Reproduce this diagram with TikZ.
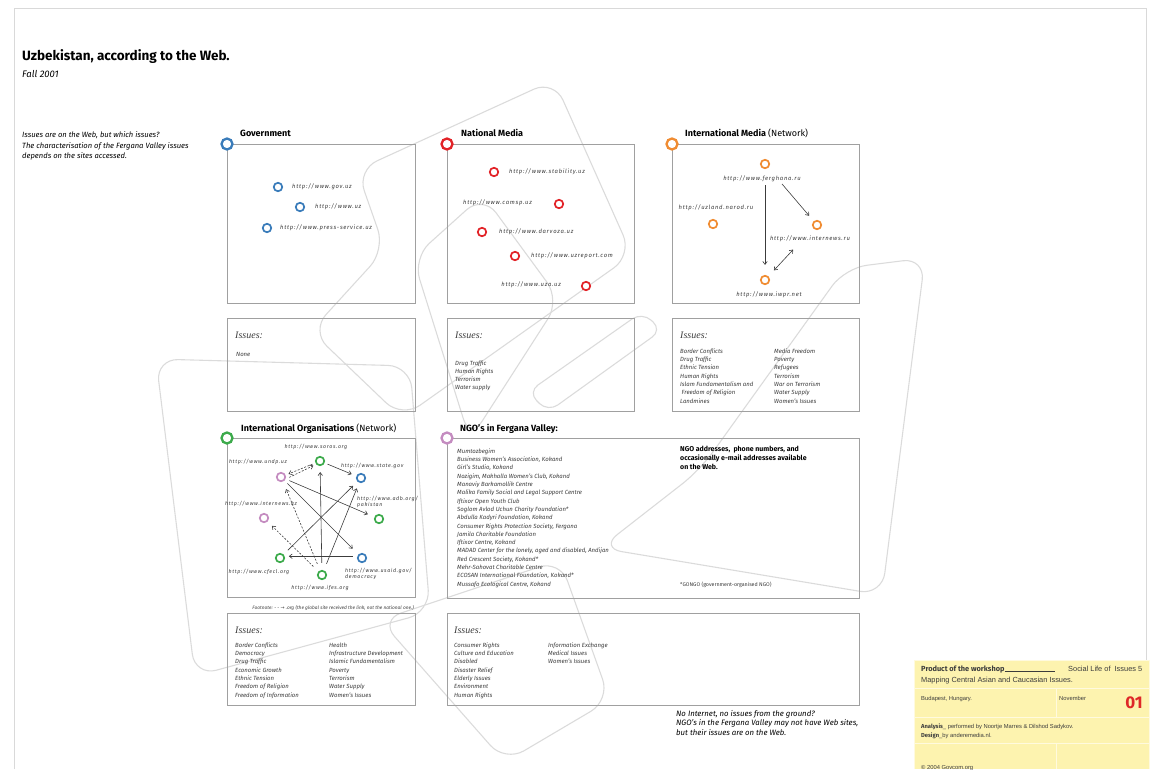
\documentclass[tikz,border=0pt]{standalone}
\usepackage{fontspec}
\setmainfont{Fira Sans}
\newfontfamily\urlfont{Fira Sans}[LetterSpace=12]
\newfontfamily\issfont{Liberation Serif}
\newfontfamily\boxfont{Liberation Sans}
\newfontfamily\symfont{DejaVu Sans}
\usetikzlibrary{arrows.meta}

\definecolor{govblue}{RGB}{58,124,186}
\definecolor{medred}{RGB}{226,35,40}
\definecolor{intorange}{RGB}{240,140,50}
\definecolor{orggreen}{RGB}{60,170,75}
\definecolor{ngopurple}{RGB}{196,140,192}
\definecolor{boxline}{RGB}{160,160,160}
\definecolor{txt}{RGB}{60,60,60}
\definecolor{notefill}{RGB}{253,243,175}
\definecolor{noteline}{RGB}{255,250,222}
\definecolor{numred}{RGB}{222,40,40}

\tikzset{
  panel/.style={draw=boxline, line width=0.9pt, anchor=north west, inner sep=0pt},
  cat/.style={circle, draw=#1, line width=2.3pt, fill=white, minimum size=11pt, inner sep=0pt},
  site/.style={circle, draw=#1, line width=1.7pt, fill=white, minimum size=8.5pt, inner sep=0pt},
  head/.style={anchor=base west, font=\bfseries\fontsize{9}{10}\selectfont, inner sep=0pt},
  url/.style={font=\urlfont\itshape\fontsize{5.9}{7}\selectfont, text=txt, inner sep=0pt},
  item/.style={anchor=west, font=\itshape\fontsize{6}{7}\selectfont, text=txt, inner sep=0pt, text height=1.2ex, text depth=.3ex},
  isshead/.style={anchor=base west, font=\issfont\itshape\fontsize{10}{11}\selectfont, text=txt, inner sep=0pt},
  link/.style={draw=txt, line width=0.6pt, -{Straight Barb[length=3pt,width=4.5pt]}, shorten >=6pt, shorten <=6pt},
  dlink/.style={link, dash pattern=on 2pt off 1.5pt},
  bgline/.style={draw=black!14, line width=1.1pt, rounded corners=22pt},
  notetext/.style={anchor=base west, font=\boxfont\fontsize{5.8}{7}\selectfont, text=txt, inner sep=0pt}
}

\begin{document}
\begin{tikzpicture}[x=1pt,y=-1pt]
\useasboundingbox (0,0) rectangle (1151,769);

% background loops
\draw[bgline] (554,80) -- (632,255) -- (402,418) -- (311,331) -- (385,250) -- (357,170) -- cycle;
\draw[bgline] (156,359) -- (410,366) -- (430,612) -- (195,676) -- cycle;
\draw[bgline] (845,268) -- (925,258) -- (882,595) -- (600,548) -- (700,470) -- cycle;
\draw[bgline] (380,620) -- (560,560) -- (610,700) -- (505,762) -- cycle;
\draw[bgline, rounded corners=12pt] (642,312) -- (528,392) -- (548,412) -- (662,330) -- cycle;
\draw[bgline] (413,258) -- (483,195) -- (560,300) -- (470,440) -- cycle;

% page edge
\draw[black!15, line width=0.8pt] (14,769) -- (14,8) -- (1146,8) -- (1146,769);

% title
\node[anchor=base west, font=\bfseries\fontsize{13.5}{15}\selectfont, inner sep=0pt] (title) at (22,60) {Uzbekistan, according to the Web.};
\node[anchor=base west, font=\itshape\fontsize{9.5}{11}\selectfont, inner sep=0pt] (season) at (22,77) {Fall 2001};
\node[anchor=base west, font=\itshape\fontsize{7.6}{9}\selectfont, inner sep=0pt] (intro1) at (22,137) {Issues are on the Web, but which issues?};
\node[anchor=base west, font=\itshape\fontsize{7.6}{9}\selectfont, inner sep=0pt] (intro2) at (22,148) {The characterisation of the Fergana Valley issues};
\node[anchor=base west, font=\itshape\fontsize{7.6}{9}\selectfont, inner sep=0pt] (intro3) at (22,158) {depends on the sites accessed.};

% panels
\node[panel, minimum width=188pt, minimum height=159pt] (govbox) at (227,144) {};
\node[panel, minimum width=187pt, minimum height=159pt] (medbox) at (447,144) {};
\node[panel, minimum width=187pt, minimum height=159pt] (intbox) at (672,144) {};
\node[panel, minimum width=188pt, minimum height=93pt] (goviss) at (227,318) {};
\node[panel, minimum width=187pt, minimum height=93pt] (mediss) at (447,318) {};
\node[panel, minimum width=187pt, minimum height=93pt] (intiss) at (672,318) {};
\node[panel, minimum width=188pt, minimum height=159pt] (orgbox) at (227,438) {};
\node[panel, minimum width=412pt, minimum height=160pt] (ngobox) at (447,438) {};
\node[panel, minimum width=188pt, minimum height=92pt] (orgiss) at (227,613) {};
\node[panel, minimum width=412pt, minimum height=92pt] (ngoiss) at (447,613) {};

\node[cat=govblue] (gov) at (govbox.north west) {};
\node[cat=medred] (media) at (medbox.north west) {};
\node[cat=intorange] (intmedia) at (intbox.north west) {};
\node[cat=orggreen] (intorg) at (orgbox.north west) {};
\node[cat=ngopurple] (ngo) at (ngobox.north west) {};

\node[head] (govhead) at (240,136) {Government};
\node[head] (medhead) at (461,136) {National Media};
\node[head] (inthead) at (685,136) {International Media {\mdseries (Network)}};
\node[head] (orghead) at (241,431) {International Organisations {\mdseries (Network)}};
\node[head] (ngohead) at (460,431) {NGO's in Fergana Valley:};

% government sites
\node[site=govblue] (govuz) at (278,187) {};
\node[site=govblue] (wwwuz) at (300,207) {};
\node[site=govblue] (press) at (267,228) {};
\node[url, anchor=west] (govuzL) at (292,187) {http://www.gov.uz};
\node[url, anchor=west] (wwwuzL) at (315,207) {http://www.uz};
\node[url, anchor=west] (pressL) at (280,228) {http://www.press-service.uz};

% national media sites
\node[site=medred] (stab) at (494,172) {};
\node[site=medred] (camsp) at (559,204) {};
\node[site=medred] (darv) at (482,232) {};
\node[site=medred] (uzrep) at (515,256) {};
\node[site=medred] (uza) at (586,286) {};
\node[url, anchor=west] (stabL) at (509,172) {http://www.stability.uz};
\node[url, anchor=east] (camspL) at (532,203) {http://www.camsp.uz};
\node[url, anchor=west] (darvL) at (499,232) {http://www.darvoza.uz};
\node[url, anchor=west] (uzrepL) at (531,256) {http://www.uzreport.com};
\node[url, anchor=east] (uzaL) at (561,285) {http://www.uza.uz};

% international media network
\node[site=intorange] (fergh) at (765,164) {};
\node[site=intorange] (uzland) at (713,224) {};
\node[site=intorange] (inews) at (817,225) {};
\node[site=intorange] (iwpr) at (765,280) {};
\node[url] (ferghL) at (762,179) {http://www.ferghana.ru};
\node[url] (uzlandL) at (716,208) {http://uzland.narod.ru};
\node[url] (inewsL) at (810,239) {http://www.internews.ru};
\node[url] (iwprL) at (769,295) {http://www.iwpr.net};
\draw[link, shorten <=16pt, shorten >=10pt] (fergh) -- (iwpr);
\draw[link, shorten <=21pt, shorten >=7pt] (fergh) -- (inews);
\draw[link, {Straight Barb[length=3pt,width=4.5pt]}-{Straight Barb[length=3pt,width=4.5pt]}, shorten <=10pt, shorten >=8pt] ([xshift=-10pt]inewsL.south) -- (iwpr);

% international organisations network
\node[site=orggreen] (soros) at (320,461) {};
\node[site=ngopurple] (undp) at (281,477) {};
\node[site=govblue] (state) at (361,478) {};
\node[site=orggreen] (adb) at (379,519) {};
\node[site=ngopurple] (kz) at (264,518) {};
\node[site=orggreen] (cfecl) at (280,558) {};
\node[site=orggreen] (ifes) at (322,575) {};
\node[site=govblue] (usaid) at (362,558) {};
\node[url, font=\urlfont\itshape\fontsize{5.3}{6.5}\selectfont] (sorosL) at (316,447) {http://www.soros.org};
\node[url, font=\urlfont\itshape\fontsize{5.3}{6.5}\selectfont] (undpL) at (258,462) {http://www.undp.uz};
\node[url, font=\urlfont\itshape\fontsize{5.3}{6.5}\selectfont, anchor=west] (stateL) at (341,466) {http://www.state.gov};
\node[url, font=\urlfont\itshape\fontsize{5.3}{6.5}\selectfont, anchor=west, align=left] (adbL) at (357,502) {http://www.adb.org/\\pakistan};
\node[url, font=\urlfont\itshape\fontsize{5.3}{6.5}\selectfont] (kzL) at (261,504) {http://www.internews.kz};
\node[url, font=\urlfont\itshape\fontsize{5.3}{6.5}\selectfont] (cfeclL) at (259,572) {http://www.cfecl.org};
\node[url, font=\urlfont\itshape\fontsize{5.3}{6.5}\selectfont] (ifesL) at (320,588) {http://www.ifes.org};
\node[url, font=\urlfont\itshape\fontsize{5.3}{6.5}\selectfont, anchor=west, align=left] (usaidL) at (345,574) {http://www.usaid.gov/\\democracy};
\draw[dlink, shorten <=3pt, shorten >=3pt] (soros) -- (undp);
\draw[dlink, shorten <=4pt, shorten >=3pt] (undp.-25) -- (soros.-140);
\draw[link, shorten <=3pt, shorten >=5pt] (soros) -- (state);
\draw[link, shorten <=4pt, shorten >=7pt] (undp) -- (adb);
\draw[link, shorten <=4pt, shorten >=8pt] (undp) -- (usaid);
\draw[link, shorten <=7pt, shorten >=6pt] (ifes) -- (soros);
\draw[link, shorten <=7pt, shorten >=6pt] (ifes) -- (state);
\draw[link, shorten <=6pt, shorten >=6pt] (cfecl) -- (state);
\draw[link, shorten <=4pt, shorten >=4pt] (usaid.160) -- (cfecl.20);
\draw[dlink, shorten <=7pt, shorten >=6pt] (ifes) -- (kz);
\draw[dlink, shorten <=7pt, shorten >=8pt] (ifes) -- (undp);
\node[anchor=base east, font=\itshape\fontsize{4.8}{5}\selectfont, text=txt, inner sep=0pt] (foot) at (414,609)
  {Footnote: - - {\symfont →} .org (the global site received the link, not the national one.)};

% NGO list
\foreach [count=\i] \t in {Mumtozbegim, {Business Women's Association, Kokand}, {Girl's Studio, Kokand},
  {Nozigim, Makhalla Women's Club, Kokand}, Manaviy Barkamollik Centre,
  Malika Family Social and Legal Support Centre, Iftixor Open Youth Club,
  Soglom Avlod Uchun Charity Foundation*, {Abdulla Kadyri Foundation, Kokand},
  {Consumer Rights Protection Society, Fergana}, Jamila Charitable Foundation,
  {Iftixor Centre, Kokand}, {MADAD Center for the lonely, aged and disabled, Andijan},
  {Red Crescent Society, Kokand*}, Mehr-Sahovat Charitable Centre,
  {ECOSAN International Foundation, Kokand*}, {Mussafo Ecological Centre, Kokand}}
  \node[item] (ngo\i) at (457,{451+8.3*(\i-1)}) {\t};
\node[anchor=north west, align=left, font=\bfseries\fontsize{7}{9}\selectfont, inner sep=0pt] (ngonote) at (680,446)
  {NGO addresses,~ phone numbers, and\\occasionally e-mail addresses available\\on the Web.};
\node[anchor=west, font=\fontsize{5.3}{6}\selectfont, text=txt, inner sep=0pt] (gongo) at (680,585) {*GONGO (government-organised NGO)};

% issues, first row
\node[isshead] (govissH) at (235,338) {Issues:};
\node[item] (none) at (236,354) {None};
\node[isshead] (medissH) at (455,338) {Issues:};
\foreach [count=\i] \t in {Drug Traffic, Human Rights, Terrorism, Water supply}
  \node[item] (medI\i) at (455,{363+8.1*(\i-1)}) {\t};
\node[isshead] (intissH) at (680,338) {Issues:};
\foreach [count=\i] \t in {Border Conflicts, Drug Traffic, Ethnic Tension, Human Rights,
  Islam Fundamentalism and, \hspace{1.5pt}Freedom of Religion, Landmines}
  \node[item] (intA\i) at (680,{351+8.3*(\i-1)}) {\t};
\foreach [count=\i] \t in {Media Freedom, Poverty, Refugees, Terrorism, War on Terrorism,
  Water Supply, Women's Issues}
  \node[item] (intB\i) at (774,{351+8.3*(\i-1)}) {\t};

% issues, second row
\node[isshead] (orgissH) at (235,633) {Issues:};
\foreach [count=\i] \t in {Border Conflicts, Democracy, Drug Traffic, Economic Growth,
  Ethnic Tension, Freedom of Religion, Freedom of Information}
  \node[item] (orgA\i) at (235,{645+8.3*(\i-1)}) {\t};
\foreach [count=\i] \t in {Health, Infrastructure Development, Islamic Fundamentalism,
  Poverty, Terrorism, Water Supply, Women's Issues}
  \node[item] (orgB\i) at (329,{645+8.3*(\i-1)}) {\t};
\node[isshead] (ngoissH) at (454,633) {Issues:};
\foreach [count=\i] \t in {Consumer Rights, Culture and Education, Disabled, Disaster Relief,
  Elderly Issues, Environment, Human Rights}
  \node[item] (ngoA\i) at (454,{645+8.3*(\i-1)}) {\t};
\foreach [count=\i] \t in {Information Exchange, Medical Issues, Women's Issues}
  \node[item] (ngoB\i) at (548,{645+8.3*(\i-1)}) {\t};

% closing remark
\node[anchor=north west, align=left, font=\itshape\fontsize{7.8}{9.5}\selectfont, inner sep=0pt] (remark) at (676,710)
  {No Internet, no issues from the ground?\\NGO's in the Fergana Valley may not have Web sites,\\but their issues are on the Web.};

% colophon
\fill[notefill] (914,660) rectangle (1149,769);
\draw[noteline, line width=1pt] (914,769) -- (914,660) -- (1149,660) -- (1149,769)
  (914,688) -- (1149,688) (914,717) -- (1149,717) (914,743) -- (1149,743)
  (1056,688) -- (1056,717) (1056,743) -- (1056,769);
\node[notetext, font=\boxfont\fontsize{7.4}{8}\selectfont] (workshop) at (921,671)
  {{\fontspec{Fira Sans}\bfseries Product of the workshop}\rule[-0.6pt]{50pt}{0.5pt}};
\node[notetext, font=\boxfont\fontsize{7.4}{8}\selectfont] (series) at (1068,671) {Social Life of~ Issues 5};
\node[notetext, font=\boxfont\fontsize{7.4}{8}\selectfont] (mapping) at (921,682) {Mapping Central Asian and Caucasian Issues.};
\node[notetext] (place) at (921,700) {Budapest, Hungary.};
\node[notetext] (month) at (1059,700) {November};
\node[anchor=base east, font=\bfseries\fontsize{17}{18}\selectfont, text=numred, inner sep=0pt] (num) at (1143,708) {01};
\node[notetext] (analysis) at (921,728) {{\fontspec{Fira Sans}\bfseries Analysis}\_ performed by Noortje Marres \& Dilshod Sadykov.};
\node[notetext] (design) at (921,737) {{\fontspec{Fira Sans}\bfseries Design}\_by anderemedia.nl.};
\node[notetext] (copy) at (921,769) {© 2004 Govcom.org};
\end{tikzpicture}
\end{document}
